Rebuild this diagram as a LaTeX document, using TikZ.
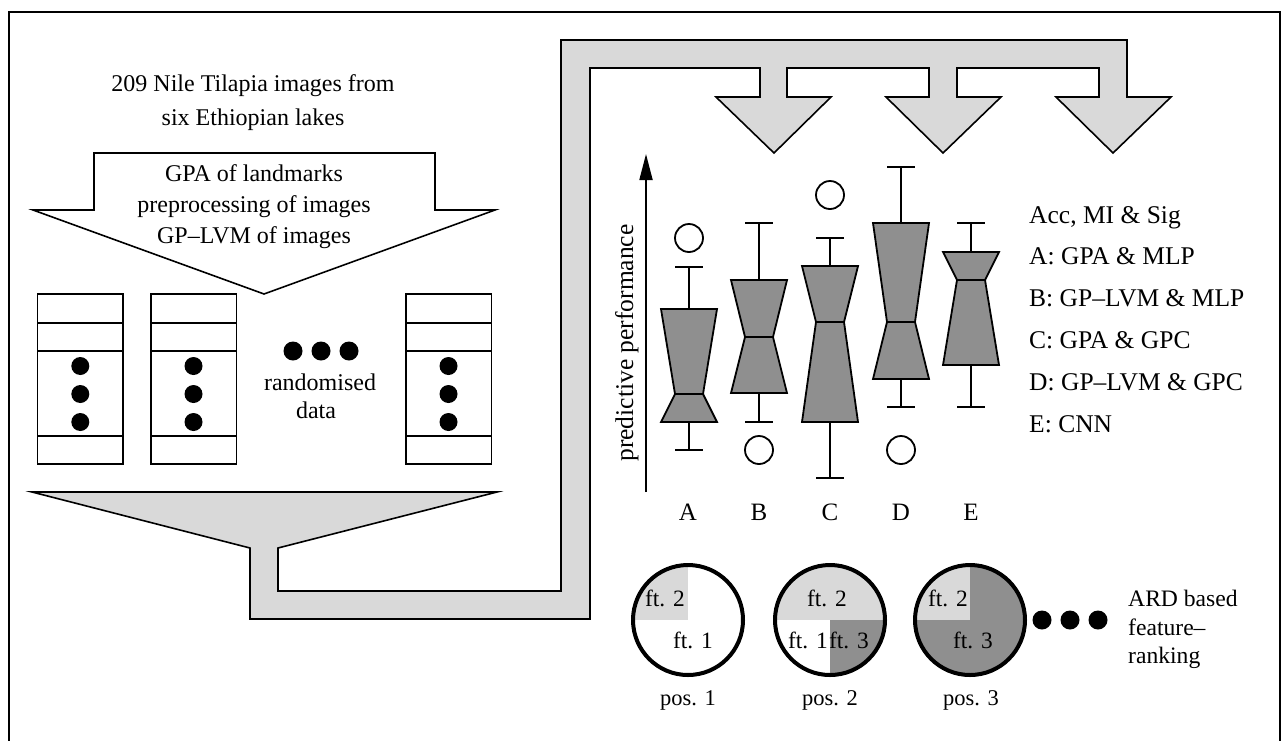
\documentclass[tikz,border=0pt]{standalone}
\usepackage{fontspec}
\setmainfont{Liberation Serif}
\usetikzlibrary{arrows.meta}

\definecolor{pipegray}{HTML}{D9D9D9}
\definecolor{boxgray}{HTML}{8F8F8F}

\tikzset{
  frameline/.style={draw=black, line width=1.5pt},
  outline/.style={draw=black, line width=1.6pt, line join=miter},
  whisk/.style={draw=black, line width=1.8pt},
  boxst/.style={draw=black, fill=boxgray, line width=1.8pt, line join=miter},
  outlier/.style={draw=black, line width=1.8pt},
  ring/.style={draw=black, line width=4pt},
  dot/.style={fill=black},
  txt/.style={font=\fontsize{24}{28}\selectfont, inner sep=0pt, anchor=base},
  leg/.style={font=\fontsize{25.5}{30}\selectfont, inner sep=0pt, anchor=base west},
  tick/.style={font=\fontsize{25}{30}\selectfont, inner sep=0pt, anchor=base},
  ftl/.style={font=\fontsize{23.4}{28}\selectfont, inner sep=0pt, anchor=base},
  posl/.style={font=\fontsize{22.5}{27}\selectfont, inner sep=0pt, anchor=base},
}

% notched box plot: centre x, upper whisker, box top, median, box bottom, lower whisker
\newcommand{\notchbox}[6]{%
  \draw[whisk] (#1,#2) -- (#1,#3) (#1,#5) -- (#1,#6);
  \draw[whisk] ({#1-14},#2) -- ({#1+14},#2);
  \draw[whisk] ({#1-14},#6) -- ({#1+14},#6);
  \draw[boxst] ({#1-28},#3) -- ({#1+28},#3) -- ({#1+14},#4) -- ({#1+28},#5)
    -- ({#1-28},#5) -- ({#1-14},#4) -- cycle;
  \draw[whisk] ({#1-14},#4) -- ({#1+14},#4);
}

% one randomised data column: left x, dot x
\newcommand{\datacol}[2]{%
  \draw[outline, line width=1.5pt] (#1,294) rectangle ({#1+85.5},464);
  \draw[outline, line width=1.5pt] (#1,323) -- ({#1+85.5},323)
    (#1,351) -- ({#1+85.5},351) (#1,436) -- ({#1+85.5},436);
  \fill[dot] (#2,366) circle (9pt) (#2,394) circle (9pt) (#2,422) circle (9pt);
}

\begin{document}
\begin{tikzpicture}[x=1pt,y=-1pt]
\useasboundingbox (0,0) rectangle (1287,740);

% outer frame
\draw[frameline] (9,741) -- (9,12) -- (1280,12) -- (1280,741);

% source text
\node[txt] (src1) at (253,91) {209 Nile Tilapia images from};
\node[txt] (src2) at (253,125) {six Ethiopian lakes};

% preprocessing arrow
\draw[outline] (94,153) -- (435,153) -- (435,210) -- (495,210) -- (264,294)
  -- (33,210) -- (94,210) -- cycle;
\node[txt] (pre1) at (254,181.5) {GPA of landmarks};
\node[txt] (pre2) at (254,212) {preprocessing of images};
\node[txt] (pre3) at (254,243) {GP–LVM of images};

% data columns
\datacol{37.7}{80.3}
\datacol{151}{193.5}
\datacol{406}{448.5}
\fill[dot] (293,351) circle (9.5pt) (321,351) circle (9.5pt) (349,351) circle (9.5pt);
\node[txt] (rnd1) at (320,390) {randomised};
\node[txt] (rnd2) at (316,418) {data};

% funnel and pipe feeding the three classifier arrows
\draw[outline, fill=pipegray]
  (32,492) -- (497,492) -- (278,548) -- (278,591) -- (561,591) -- (561,40)
  -- (1127,40) -- (1127,97) -- (1171,97) -- (1113,153) -- (1056,97) -- (1099,97)
  -- (1099,68) -- (957,68) -- (957,97) -- (1001,97) -- (943,153) -- (886,97)
  -- (929,97) -- (929,68) -- (787,68) -- (787,97) -- (831,97) -- (774,153)
  -- (716,97) -- (760,97) -- (760,68) -- (590,68) -- (590,619) -- (250,619)
  -- (250,548) -- cycle;

% performance axis
\coordinate (ax0) at (646,492);
\coordinate (ax1) at (646,154);
\draw[line width=1.8pt, -{Triangle[length=26pt,width=13pt]}] (ax0) -- (ax1);
\node[font=\fontsize{25.5}{30}\selectfont, inner sep=0pt, anchor=base, rotate=90]
  (perf) at (633,343) {predictive performance};

% box plots
\notchbox{689}{267}{309}{394}{422}{450}
\notchbox{759}{223}{280}{337}{393}{422}
\notchbox{830}{238}{266}{322}{422}{478}
\notchbox{901}{167}{223}{322}{379}{407}
\notchbox{971}{223}{252}{280}{365}{407}
\draw[outlier] (689,238) circle (14pt);
\draw[outlier] (759,450) circle (14pt);
\draw[outlier] (830,195) circle (14pt);
\draw[outlier] (901,450) circle (14pt);

\node[tick] (tA) at (688,520) {A};
\node[tick] (tB) at (759,520) {B};
\node[tick] (tC) at (830,520) {C};
\node[tick] (tD) at (901,520) {D};
\node[tick] (tE) at (971,520) {E};

% legend
\node[leg] (lg0) at (1029,223) {Acc, MI \& Sig};
\node[leg] (lgA) at (1029,264.8) {A: GPA \& MLP};
\node[leg] (lgB) at (1029,306.6) {B: GP–LVM \& MLP};
\node[leg] (lgC) at (1029,348.4) {C: GPA \& GPC};
\node[leg] (lgD) at (1029,390.2) {D: GP–LVM \& GPC};
\node[leg] (lgE) at (1029,432) {E: CNN};

% feature ranking pies
\begin{scope}
  \clip (688,620) circle (55pt);
  \fill[white] (630,560) rectangle (750,680);
  \fill[pipegray] (630,560) rectangle (688,620);
\end{scope}
\draw[ring] (688,620) circle (55pt);

\begin{scope}
  \clip (830,620) circle (55pt);
  \fill[white] (770,560) rectangle (890,680);
  \fill[pipegray] (770,560) rectangle (890,620);
  \fill[boxgray] (830,620) rectangle (890,680);
\end{scope}
\draw[ring] (830,620) circle (55pt);

\begin{scope}
  \clip (970,620) circle (55pt);
  \fill[boxgray] (910,560) rectangle (1030,680);
  \fill[pipegray] (910,560) rectangle (970,620);
\end{scope}
\draw[ring] (970,620) circle (55pt);

\node[ftl] (p1f2) at (665,606) {ft. 2};
\node[ftl] (p1f1) at (693,648) {ft. 1};
\node[ftl] (p2f2) at (827,606) {ft. 2};
\node[ftl] (p2f1) at (808,648) {ft. 1};
\node[ftl] (p2f3) at (849,648) {ft. 3};
\node[ftl] (p3f2) at (948,606) {ft. 2};
\node[ftl] (p3f3) at (973,648) {ft. 3};

\node[posl] (pos1) at (688,705) {pos. 1};
\node[posl] (pos2) at (830,705) {pos. 2};
\node[posl] (pos3) at (971,705) {pos. 3};

\fill[dot] (1042,620) circle (9.5pt) (1070,620) circle (9.5pt) (1098,620) circle (9.5pt);
\node[font=\fontsize{23.6}{28}\selectfont, inner sep=0pt, anchor=base west] (ard1) at (1128,606) {ARD based};
\node[font=\fontsize{23.6}{28}\selectfont, inner sep=0pt, anchor=base west] (ard2) at (1128,635) {feature–};
\node[font=\fontsize{23.6}{28}\selectfont, inner sep=0pt, anchor=base west] (ard3) at (1128,663) {ranking};
\end{tikzpicture}
\end{document}
